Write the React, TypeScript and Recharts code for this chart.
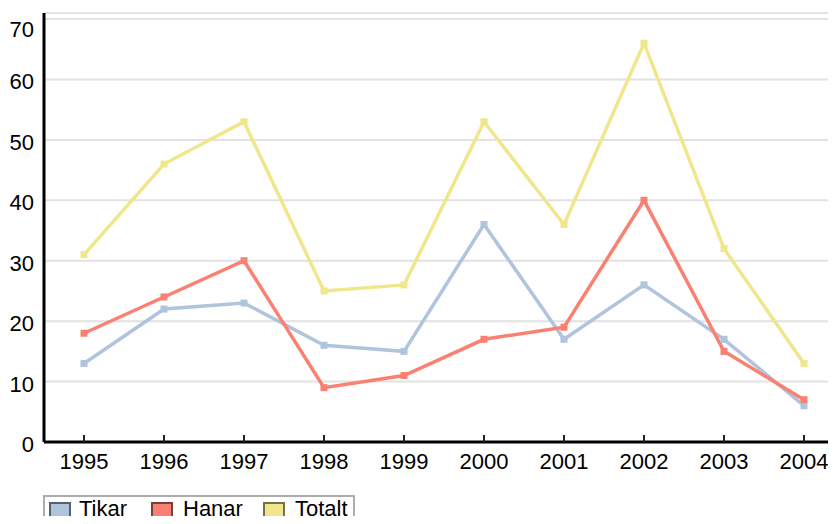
import { CartesianGrid, Line, LineChart, XAxis, YAxis } from 'recharts'

const years = ['1995', '1996', '1997', '1998', '1999', '2000', '2001', '2002', '2003', '2004']
const tikar = [13, 22, 23, 16, 15, 36, 17, 26, 17, 6]
const hanar = [18, 24, 30, 9, 11, 17, 19, 40, 15, 7]
const totalt = [31, 46, 53, 25, 26, 53, 36, 66, 32, 13]
const yTicks = [0, 10, 20, 30, 40, 50, 60, 70]

const series = [
  { key: 'tikar', label: 'Tikar', color: '#b0c4de', border: '#56616e' },
  { key: 'hanar', label: 'Hanar', color: '#fa8072', border: '#7a3f38' },
  { key: 'totalt', label: 'Totalt', color: '#f0e68c', border: '#777147' },
]

const data = years.map((year, i) => ({
  year,
  tikar: tikar[i],
  hanar: hanar[i],
  totalt: totalt[i],
}))

const FONT = "'Liberation Sans', Arial, sans-serif"

// legend item offsets inside the box (swatch, label)
const legendPos = [
  [4, 34],
  [106, 138],
  [218, 250],
]

function SquareDot(props: any) {
  const { cx, cy, stroke } = props
  if (cx == null || cy == null) return null
  return <rect x={cx - 3.5} y={cy - 3.5} width={7} height={7} fill={stroke} />
}

function XTick(props: any) {
  const { x, y, payload } = props
  return (
    <g>
      <line x1={x} x2={x} y1={y - 7} y2={y} stroke="#222" strokeWidth={2} />
      <text x={x} y={y + 27} textAnchor="middle" fontSize={22} fontFamily={FONT} fill="#000">
        {payload.value}
      </text>
    </g>
  )
}

function YTick(props: any) {
  const { x, y, payload } = props
  const shift = payload.value === 70 ? 18 : 10
  return (
    <text x={x} y={y + shift} textAnchor="end" fontSize={22} fontFamily={FONT} fill="#000">
      {payload.value}
    </text>
  )
}

export default function App() {
  return (
    <div style={{ position: 'relative', margin: -8, width: 836, height: 524, overflow: 'hidden', background: '#fff' }}>
      <LineChart width={844} height={524} data={data} margin={{ top: 13, right: 0, bottom: 0, left: 0 }}>
        <CartesianGrid vertical={false} stroke="#e2e2e2" strokeWidth={2} />
        <XAxis
          dataKey="year"
          padding={{ left: 40, right: 40 }}
          height={82}
          axisLine={{ stroke: '#000', strokeWidth: 3 }}
          tickLine={false}
          tickSize={0}
          tickMargin={0}
          tick={<XTick />}
          interval={0}
        />
        <YAxis
          domain={[0, 71]}
          ticks={yTicks}
          width={44}
          axisLine={{ stroke: '#000', strokeWidth: 3 }}
          tickLine={false}
          tickSize={0}
          tickMargin={10}
          tick={<YTick />}
          interval={0}
        />
        {series.map((s) => (
          <Line
            key={s.key}
            type="linear"
            dataKey={s.key}
            name={s.label}
            stroke={s.color}
            strokeWidth={3.5}
            dot={<SquareDot />}
            activeDot={false}
            isAnimationActive={false}
          />
        ))}
      </LineChart>
      <div
        style={{
          position: 'absolute',
          left: 43,
          top: 495,
          width: 308,
          height: 40,
          border: '2px solid #acacac',
          background: '#fff',
          fontFamily: FONT,
          fontSize: 22,
        }}
      >
        {series.map((s, i) => (
          <div key={s.key}>
            <span
              style={{
                position: 'absolute',
                left: legendPos[i][0],
                top: 5,
                width: 18,
                height: 18,
                background: s.color,
                border: `2px solid ${s.border}`,
              }}
            />
            <span
              style={{
                position: 'absolute',
                left: legendPos[i][1],
                top: 0,
                lineHeight: '24px',
                color: '#000',
                whiteSpace: 'nowrap',
              }}
            >
              {s.label}
            </span>
          </div>
        ))}
      </div>
    </div>
  )
}
